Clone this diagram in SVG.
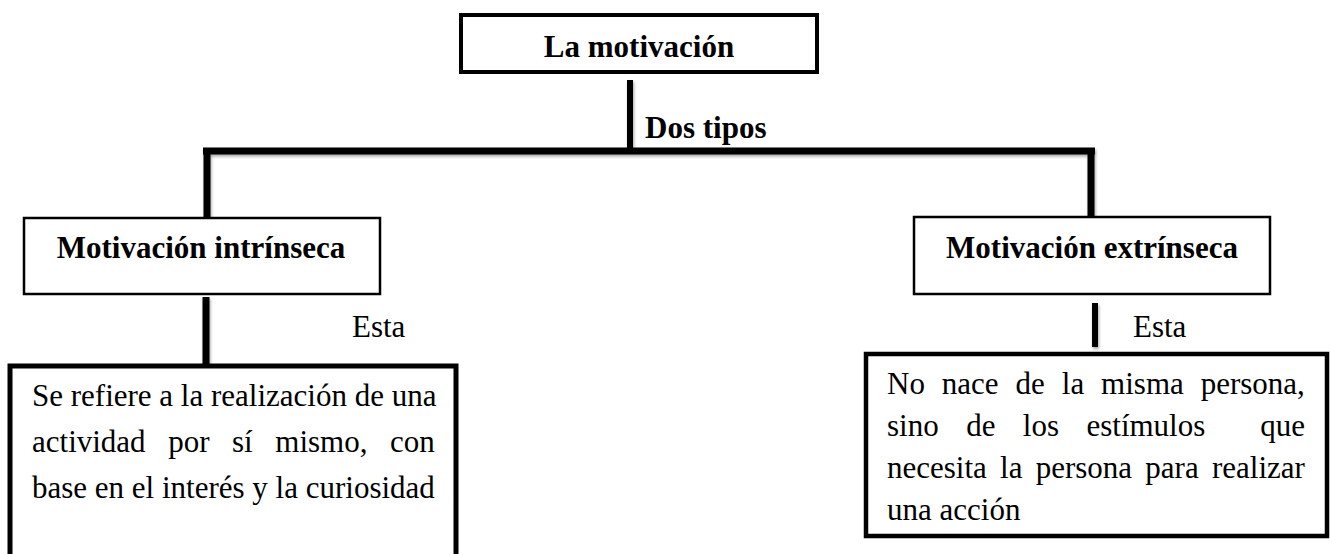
<svg xmlns="http://www.w3.org/2000/svg" width="1330" height="554" viewBox="0 0 1330 554">
<defs>
<style>
.box{fill:#fff;stroke:#000}
.b{font-family:"Liberation Serif","Times New Roman",serif;font-weight:bold;font-size:31px;fill:#000}
.r{font-family:"Liberation Serif","Times New Roman",serif;font-size:31px;fill:#000}
.c{stroke:#000;fill:none;stroke-linecap:butt}
</style>
<filter id="sh" x="-20%" y="-20%" width="140%" height="140%">
<feGaussianBlur in="SourceAlpha" stdDeviation="1.5"/>
<feOffset dx="1" dy="2" result="o"/>
<feComponentTransfer><feFuncA type="linear" slope="0.35"/></feComponentTransfer>
<feMerge><feMergeNode/><feMergeNode in="SourceGraphic"/></feMerge>
</filter>
</defs>
<rect width="1330" height="554" fill="#fff"/>
<g id="connectors" filter="url(#sh)">
<line class="c" x1="630" y1="80" x2="630" y2="152" stroke-width="6"/>
<line class="c" x1="203" y1="151" x2="1095" y2="151" stroke-width="7"/>
<line class="c" x1="207" y1="148" x2="207" y2="217" stroke-width="7"/>
<line class="c" x1="1091" y1="148" x2="1091" y2="216" stroke-width="7"/>
<line class="c" x1="206" y1="297" x2="206" y2="364" stroke-width="7"/>
<line class="c" x1="1095" y1="303" x2="1095" y2="347" stroke-width="6"/>
</g>
<g id="lbl-dos">
<text class="b" x="645" y="138">Dos tipos</text>
</g>
<g id="node-motivacion">
<rect class="box" x="461" y="15" width="356" height="57" stroke-width="4"/>
<text class="b" x="639" y="57" text-anchor="middle">La motivación</text>
</g>
<g id="node-intrinseca">
<rect class="box" x="24" y="218" width="356" height="76" stroke-width="2.5"/>
<text class="b" x="201" y="258" text-anchor="middle">Motivación intrínseca</text>
</g>
<g id="node-extrinseca">
<rect class="box" x="914" y="217" width="356" height="77" stroke-width="2.5"/>
<text class="b" x="1092" y="258" text-anchor="middle">Motivación extrínseca</text>
</g>
<g id="lbl-esta1"><text class="r" x="352" y="337">Esta</text></g>
<g id="lbl-esta2"><text class="r" x="1133" y="337">Esta</text></g>
<g id="node-desc-intr">
<path class="box" d="M10,560 V366 H456 V560" stroke-width="5"/>
<text class="r" x="32" y="406">Se refiere a la realización de una</text>
<text class="r" x="32" y="452" word-spacing="14.8">actividad por sí mismo, con</text>
<text class="r" x="32" y="498">base en el interés y la curiosidad</text>
</g>
<g id="node-desc-extr">
<rect class="box" x="866" y="354" width="461" height="182" stroke-width="4.5"/>
<text class="r" x="887" y="394" word-spacing="9.2">No nace de la misma persona,</text>
<text class="r" x="887" y="436" word-spacing="19.7" xml:space="preserve">sino de los estímulos  que</text>
<text class="r" x="887" y="478" word-spacing="5.5">necesita la persona para realizar</text>
<text class="r" x="887" y="520">una acción</text>
</g>
</svg>
